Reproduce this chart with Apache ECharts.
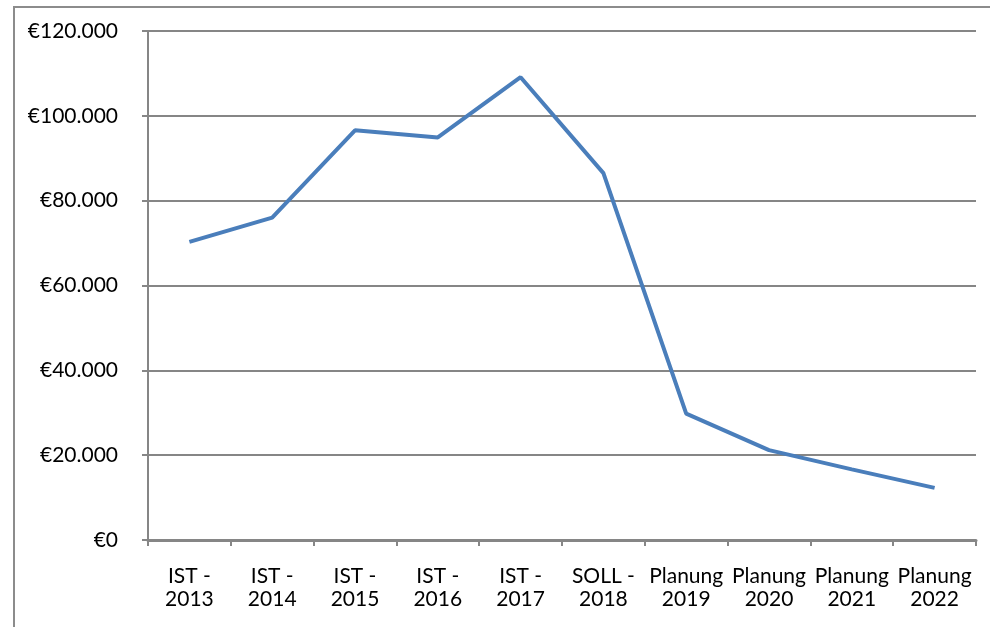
<!DOCTYPE html>
<html><head><meta charset="utf-8">
<script src="https://cdn.jsdelivr.net/npm/echarts@6/dist/echarts.min.js"></script>
<style>html,body{margin:0;padding:0;background:#fff}#c{width:990px;height:627px}</style>
</head><body><div id="c"></div>
<script>
const categories = ["IST -\n2013","IST -\n2014","IST -\n2015","IST -\n2016","IST -\n2017","SOLL -\n2018","Planung\n2019","Planung\n2020","Planung\n2021","Planung\n2022"];
const values = [70300, 76000, 96600, 94900, 109100, 86500, 29800, 21200, 16650, 12300];
const yTicks = {min: 0, max: 120000, interval: 20000};

function fmt(v){
  const s = String(Math.round(v)).replace(/\B(?=(\d{3})+(?!\d))/g, '.');
  return '€' + s;
}
const chart = echarts.init(document.getElementById('c'), null, {renderer:'canvas'});
const axisColor = '#868686';
const font = 'Lato, "Open Sans", sans-serif';
chart.setOption({
  animation:false,
  graphic:[{type:'rect', shape:{x:14,y:7,width:1100,height:800}, style:{fill:'none', stroke:'#8c8c8c', lineWidth:2}, silent:true}],
  grid:{left:148, right:14, top:31, bottom:87},
  xAxis:{type:'category', data:categories, boundaryGap:true,
    axisLine:{lineStyle:{color:axisColor, width:3}},
    axisTick:{show:true, interval:0, length:6, lineStyle:{color:axisColor, width:2}},
    axisLabel:{interval:0, color:'#000', fontFamily:font, fontSize:21, lineHeight:23, margin:25}},
  yAxis:{type:'value', min:yTicks.min, max:yTicks.max, interval:yTicks.interval,
    axisLine:{show:true, lineStyle:{color:axisColor, width:2}},
    axisTick:{show:true, length:6, lineStyle:{color:axisColor, width:2}},
    splitLine:{lineStyle:{color:axisColor, width:2}},
    axisLabel:{color:'#000', fontFamily:font, fontSize:21, margin:30, formatter:fmt}},
  series:[{type:'line', data:values, showSymbol:false, symbol:'none',
    lineStyle:{color:'#4a7ebb', width:4}}]
});
</script></body></html>
